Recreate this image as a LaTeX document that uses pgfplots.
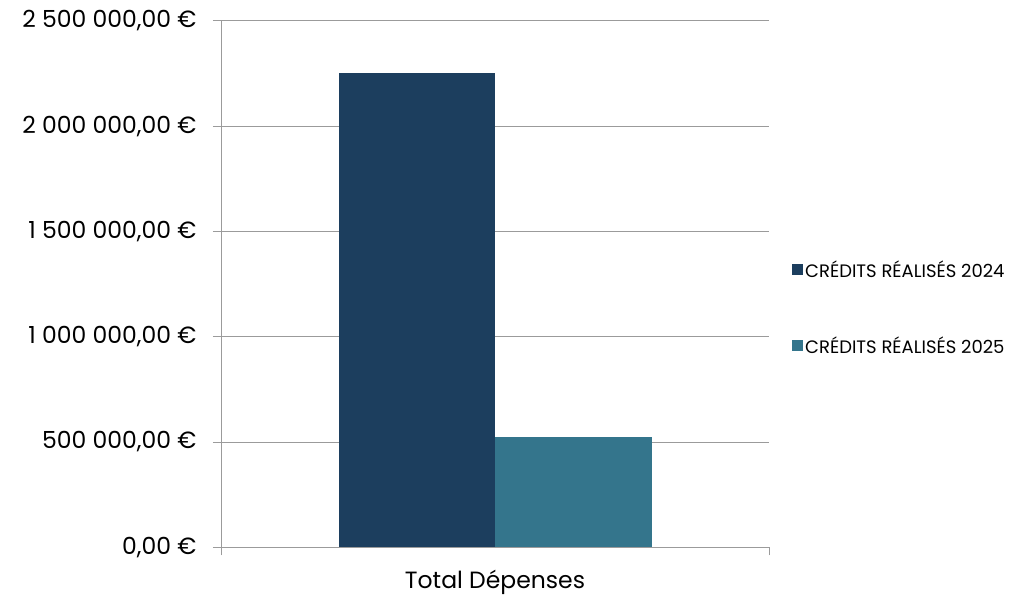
\documentclass[border=0pt]{standalone}
\usepackage{pgfplots}
\pgfplotsset{compat=1.18}
\usepackage{fontspec}
\setmainfont{Poppins}
\definecolor{bar24}{RGB}{28,62,94}
\definecolor{bar25}{RGB}{52,117,140}
\definecolor{gridc}{RGB}{155,155,155}
\begin{document}
\begin{tikzpicture}
\useasboundingbox (0,0) rectangle (1014pt,595pt);
\begin{axis}[
  at={(221pt,47.7pt)}, anchor=south west,
  scale only axis, width=548pt, height=526.3pt,
  ybar=0pt, bar width=156.5pt,
  xmin=-1, xmax=1, ymin=0, ymax=2500000,
  axis x line*=bottom, axis y line*=left,
  axis line style={gridc, line width=1pt},
  xtick={-1,1}, xticklabels={},
  x tick style={draw=gridc, line width=1pt},
  xlabel={Total Dépenses},
  xlabel style={font=\fontsize{23.5}{26}\selectfont, text=black, anchor=center, at={(axis description cs:0.5,0)}, yshift=-35pt},
  ytick={0,500000,1000000,1500000,2000000,2500000},
  yticklabels={{0,00 €},{500 000,00 €},{1 000 000,00 €},{1 500 000,00 €},{2 000 000,00 €},{2 500 000,00 €}},
  y tick style={draw=gridc, line width=1pt},
  tick align=outside, major tick length=8pt,
  ymajorgrids, xmajorgrids=false, grid style={gridc, line width=1pt},
  ticklabel style={font=\fontsize{23.5}{26}\selectfont, text=black},
  yticklabel style={xshift=-13pt},
  scaled y ticks=false,
  legend style={at={(1,0.455)}, anchor=west, xshift=20pt, draw=none, fill=none,
    font=\fontsize{18}{19}\selectfont, row sep=54pt, cells={anchor=west}},
  legend image code/.code={\fill[#1,draw=none] (0pt,-5.5pt) rectangle (11pt,5.5pt);},
]
\addplot[fill=bar24, draw=none] coordinates {(0,2253000)};
\addplot[fill=bar25, draw=none] coordinates {(0,524000)};
\legend{CRÉDITS RÉALISÉS 2024, CRÉDITS RÉALISÉS 2025}
\end{axis}
\end{tikzpicture}
\end{document}
